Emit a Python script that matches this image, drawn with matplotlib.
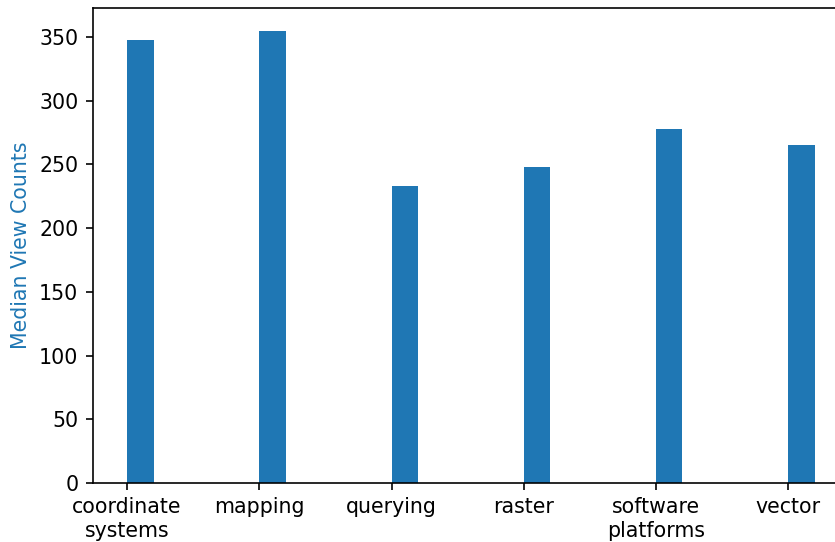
import numpy as np
import matplotlib.pyplot as plt

# median view counts per tag
tags = ["coordinate\nsystems", "mapping", "querying", "raster",
        "software\nplatforms", "vector"]
median_views = [348, 355, 233, 248, 278, 265]

DPI = 148
W, H = 836, 542
fig = plt.figure(figsize=(W / DPI, H / DPI), dpi=DPI)
ax = fig.add_axes([92.7 / W, 1 - 483 / H, (849 - 92.7) / W, (483 - 8) / H])

x = np.arange(len(tags))
ax.bar(x, median_views, width=0.2, align="edge", color="C0")
ax.set_xticks(x)
ax.set_xticklabels(tags)
ax.set_ylabel("Median View Counts", color="C0")

fig.savefig("out.png", dpi=DPI)
